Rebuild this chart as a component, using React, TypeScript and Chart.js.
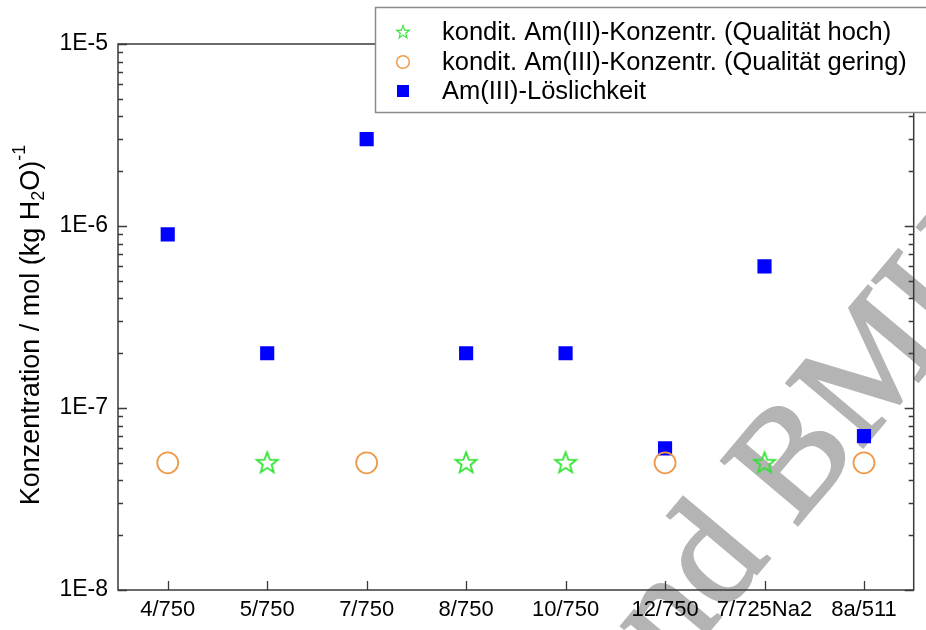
import React, { useEffect, useRef } from "react";
import { Chart, registerables } from "chart.js";

Chart.register(...registerables);

const categories = ["4/750", "5/750", "7/750", "8/750", "10/750", "12/750", "7/725Na2", "8a/511"];
const qualHoch = [null, 5e-8, null, 5e-8, 5e-8, null, 5e-8, null];
const qualGering = [5e-8, null, 5e-8, null, null, 5e-8, null, 5e-8];
const loeslichkeit = [9e-7, 2e-7, 3e-6, 2e-7, 2e-7, 6e-8, 6e-7, 7e-8];
const yMajorTicks = [1e-8, 1e-7, 1e-6, 1e-5];
const yTickLabels = ["1E-8", "1E-7", "1E-6", "1E-5"];
const seriesLabels = [
  "kondit. Am(III)-Konzentr. (Qualität hoch)",
  "kondit. Am(III)-Konzentr. (Qualität gering)",
  "Am(III)-Löslichkeit",
];

const FONT = "'Liberation Sans', Arial, sans-serif";
const GREEN = "#2fe22f";
const ORANGE = "#ee9a4a";
const BLUE = "#0000ff";
const AXIS = "#3a3a3a";

function makeStar(): HTMLCanvasElement {
  const c = document.createElement("canvas");
  c.width = 26;
  c.height = 26;
  const ctx = c.getContext("2d")!;
  const cx = 13, cy = 13.5, R = 11, r = 4.6;
  ctx.beginPath();
  for (let i = 0; i < 10; i++) {
    const rad = i % 2 === 0 ? R : r;
    const a = -Math.PI / 2 + (i * Math.PI) / 5;
    const x = cx + rad * Math.cos(a);
    const y = cy + rad * Math.sin(a);
    if (i === 0) ctx.moveTo(x, y);
    else ctx.lineTo(x, y);
  }
  ctx.closePath();
  ctx.strokeStyle = GREEN;
  ctx.lineWidth = 1.8;
  ctx.stroke();
  return c;
}

export default function App() {
  const ref = useRef<HTMLCanvasElement>(null);

  useEffect(() => {
    const star = makeStar();

    const framePlugin = {
      id: "frame",
      beforeDraw(chart: any) {
        const { ctx } = chart;
        ctx.save();
        ctx.font = `152px 'Liberation Serif', 'Times New Roman', serif`;
        const pre = ctx.measureText("und ").width;
        ctx.translate(795, 528);
        ctx.rotate((-50 * Math.PI) / 180);
        ctx.fillStyle = "#b4b4b4";
        ctx.strokeStyle = "#b4b4b4";
        ctx.lineWidth = 3;
        ctx.textBaseline = "alphabetic";
        ctx.strokeText("und BMU", -pre, 0);
        ctx.fillText("und BMU", -pre, 0);
        ctx.restore();
      },
      beforeDatasetsDraw(chart: any) {
        const { ctx, chartArea } = chart;
        const { left, right, top, bottom } = chartArea;
        const xs = chart.scales.x;
        const ys = chart.scales.y;
        ctx.save();
        ctx.strokeStyle = AXIS;
        ctx.lineWidth = 1.5;
        ctx.strokeRect(left, top, right - left, bottom - top);
        ctx.lineWidth = 1.3;
        ctx.beginPath();
        for (let e = -8; e <= -5; e++) {
          for (let m = 1; m <= 9; m++) {
            const v = m * Math.pow(10, e);
            if (v > 1.0001e-5) break;
            const y = Math.round(ys.getPixelForValue(v)) + 0.5;
            const len = m === 1 ? 9 : 5;
            ctx.moveTo(left, y);
            ctx.lineTo(left + len, y);
            ctx.moveTo(right, y);
            ctx.lineTo(right - len, y);
          }
        }
        categories.forEach((_, i) => {
          const x = Math.round(xs.getPixelForValue(i)) + 0.5;
          ctx.moveTo(x, bottom);
          ctx.lineTo(x, bottom - 9);
        });
        ctx.stroke();

        // y-axis title
        ctx.fillStyle = "#000";
        ctx.translate(31, (top + bottom) / 2 + 8);
        ctx.rotate(-Math.PI / 2);
        const big = `27px ${FONT}`;
        const small = `18px ${FONT}`;
        const parts: [string, string, number][] = [
          ["Konzentration / mol (kg H", big, 0],
          ["2", small, 7],
          ["O)", big, 0],
          ["-1", small, -12],
        ];
        let total = 0;
        parts.forEach(([t, f]) => {
          ctx.font = f;
          total += ctx.measureText(t).width;
        });
        let x = -total / 2;
        ctx.textBaseline = "middle";
        parts.forEach(([t, f, dy]) => {
          ctx.font = f;
          ctx.fillText(t, x, dy + 1);
          x += ctx.measureText(t).width;
        });
        ctx.restore();
      },
      afterDraw(chart: any) {
        const { ctx } = chart;
        ctx.save();
        ctx.fillStyle = "#fff";
        ctx.fillRect(375, 7, 560, 105);
        ctx.strokeStyle = "#8a8a8a";
        ctx.lineWidth = 1.5;
        ctx.strokeRect(375.5, 7.5, 560, 105);
        const rows = [32, 62, 91];
        const sx = 403;
        ctx.font = `25.5px ${FONT}`;
        ctx.textBaseline = "middle";
        rows.forEach((y, i) => {
          if (i === 0) {
            ctx.drawImage(star, sx - 8, y - 8, 16, 16);
          } else if (i === 1) {
            ctx.beginPath();
            ctx.arc(sx, y, 6.3, 0, Math.PI * 2);
            ctx.strokeStyle = ORANGE;
            ctx.lineWidth = 1.5;
            ctx.stroke();
          } else {
            ctx.fillStyle = BLUE;
            ctx.fillRect(sx - 6, y - 6, 12, 12);
          }
          ctx.fillStyle = "#000";
          ctx.fillText(seriesLabels[i], 442, y + 1);
        });
        ctx.restore();
      },
    };

    const chart = new Chart(ref.current!, {
      type: "scatter",
      data: {
        labels: categories,
        datasets: [
          {
            label: seriesLabels[0],
            data: qualHoch as any,
            pointStyle: star as any,
            showLine: false,
          },
          {
            label: seriesLabels[1],
            data: qualGering as any,
            pointStyle: "circle",
            pointRadius: 10.5,
            borderColor: ORANGE,
            backgroundColor: "rgba(0,0,0,0)",
            borderWidth: 1.8,
            showLine: false,
          },
          {
            label: seriesLabels[2],
            data: loeslichkeit as any,
            pointStyle: "rect",
            pointRadius: 10,
            borderColor: BLUE,
            backgroundColor: BLUE,
            borderWidth: 0,
            showLine: false,
          },
        ],
      },
      options: {
        animation: false,
        responsive: false,
        layout: { padding: { left: 0, top: 44, right: 11, bottom: 0 } },
        plugins: { legend: { display: false }, tooltip: { enabled: false } },
        scales: {
          x: {
            type: "category",
            labels: categories,
            offset: true,
            grid: { display: false, drawTicks: false },
            border: { display: false },
            ticks: {
              color: "#000",
              font: { family: FONT, size: 22 },
              padding: 7,
              maxRotation: 0,
              autoSkip: false,
            },
            afterFit: (s: any) => {
              s.height = 40;
            },
          },
          y: {
            type: "logarithmic",
            min: 1e-8,
            max: 1e-5,
            grid: { display: false, drawTicks: false },
            border: { display: false },
            afterBuildTicks: (s: any) => {
              s.ticks = yMajorTicks.map((v) => ({ value: v }));
            },
            ticks: {
              color: "#000",
              font: { family: FONT, size: 23 },
              padding: 10,
              autoSkip: false,
              callback: (v: any) => {
                const i = yMajorTicks.findIndex((t) => Math.abs(t - v) / t < 1e-6);
                return i >= 0 ? yTickLabels[i] : "";
              },
            },
            afterFit: (s: any) => {
              s.width = 118;
            },
          },
        },
      } as any,
      plugins: [framePlugin],
    });
    return () => chart.destroy();
  }, []);

  return (
    <div style={{ position: "absolute", left: 0, top: 0, width: 926, height: 630, background: "#fff" }}>
      <canvas ref={ref} width={926} height={630} style={{ width: 926, height: 630 }} />
    </div>
  );
}
